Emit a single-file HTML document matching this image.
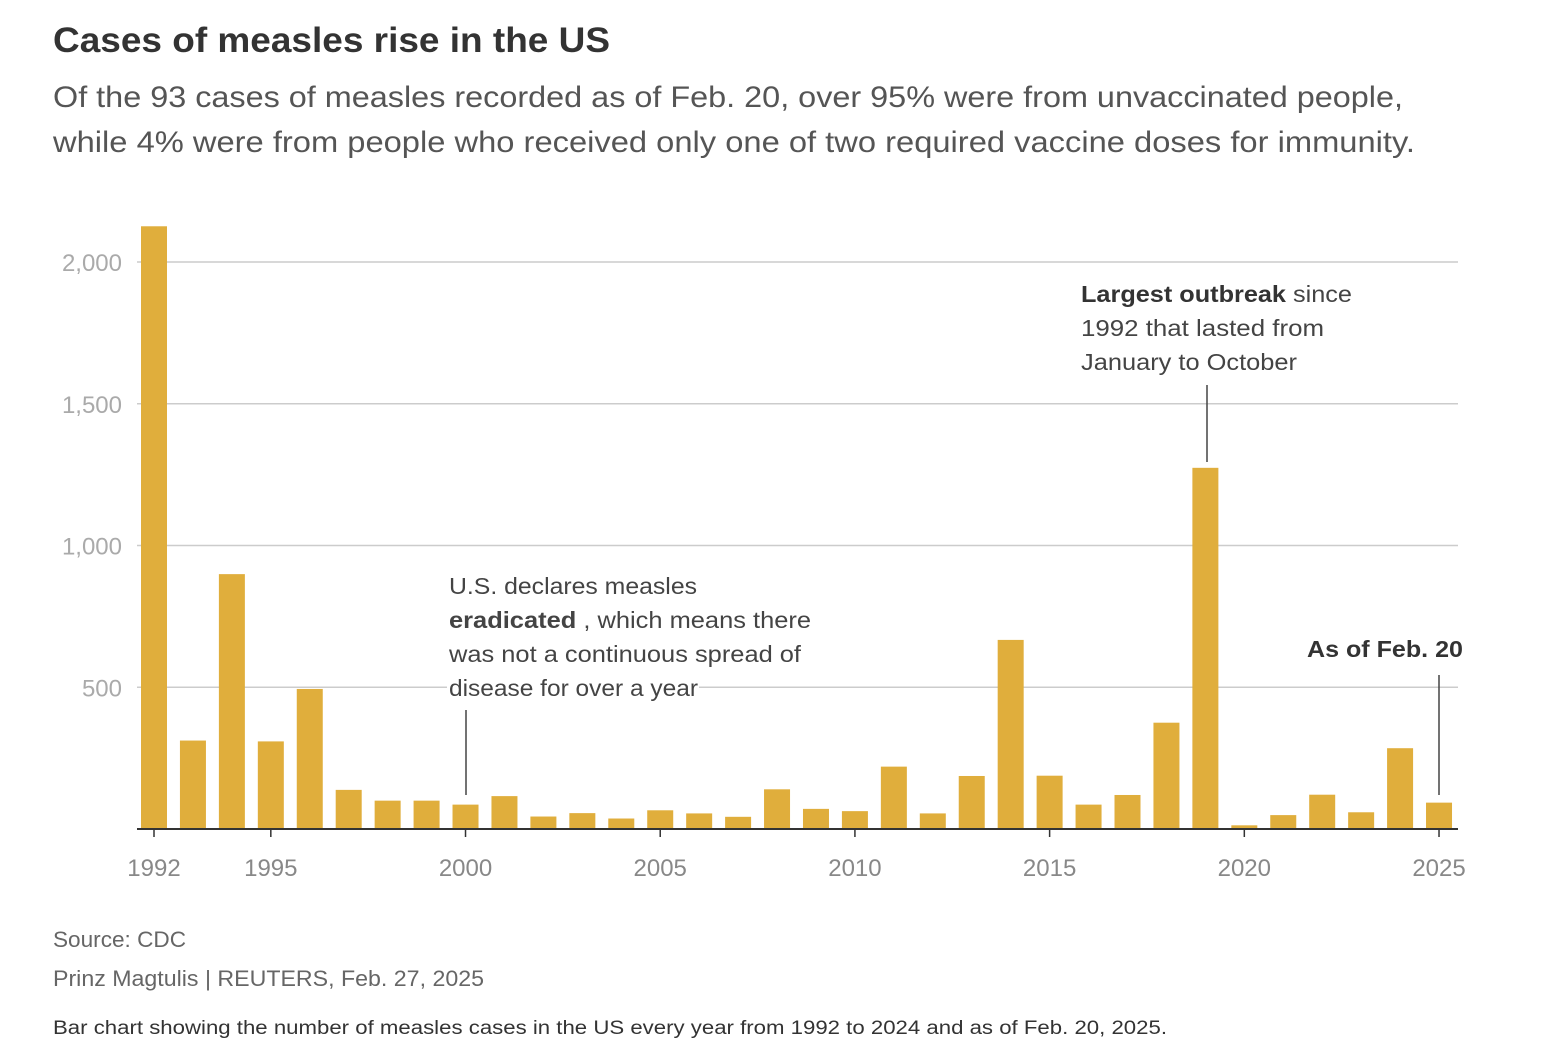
<!DOCTYPE html>
<html><head><meta charset="utf-8"><style>
body{margin:0;background:#fff;width:1552px;height:1054px;overflow:hidden;font-family:"Liberation Sans",sans-serif;}
svg text{font-family:"Liberation Sans",sans-serif;}
</style></head><body>
<svg width="1552" height="1054">
<text x="53" y="52" font-size="35" font-weight="bold" fill="#333" textLength="557" lengthAdjust="spacingAndGlyphs">Cases of measles rise in the US</text>
<text x="53" y="107" font-size="30" fill="#555" textLength="1350" lengthAdjust="spacingAndGlyphs">Of the 93 cases of measles recorded as of Feb. 20, over 95% were from unvaccinated people,</text>
<text x="53" y="152" font-size="30" fill="#555" textLength="1362" lengthAdjust="spacingAndGlyphs">while 4% were from people who received only one of two required vaccine doses for immunity.</text>
<g id="grid"></g><g id="bars"></g><g id="xaxis"></g>
<g>
<text x="449" y="594" font-size="23" fill="#444" textLength="248" lengthAdjust="spacingAndGlyphs">U.S. declares measles</text>
<text x="449" y="628" font-size="23" fill="#444" textLength="362" lengthAdjust="spacingAndGlyphs"><tspan font-weight="bold">eradicated</tspan> , which means there</text>
<text x="449" y="662" font-size="23" fill="#444" textLength="352" lengthAdjust="spacingAndGlyphs">was not a continuous spread of</text>
<rect x="447" y="676" width="252" height="26" fill="#fff"/>
<text x="449" y="696" font-size="23" fill="#444" textLength="249" lengthAdjust="spacingAndGlyphs">disease for over a year</text>
<line x1="466" y1="710" x2="466" y2="795" stroke="#444" stroke-width="1.5"/>
</g>
<g>
<text x="1081" y="302" font-size="23" fill="#444" textLength="271" lengthAdjust="spacingAndGlyphs"><tspan font-weight="bold" fill="#333">Largest outbreak</tspan> since</text>
<text x="1081" y="336" font-size="23" fill="#444" textLength="243" lengthAdjust="spacingAndGlyphs">1992 that lasted from</text>
<text x="1081" y="370" font-size="23" fill="#444" textLength="216" lengthAdjust="spacingAndGlyphs">January to October</text>
<line x1="1207" y1="385" x2="1207" y2="462" stroke="#444" stroke-width="1.5"/>
</g>
<g>
<text x="1463" y="657" font-size="23" font-weight="bold" fill="#333" text-anchor="end" textLength="156" lengthAdjust="spacingAndGlyphs">As of Feb. 20</text>
<line x1="1439" y1="675" x2="1439" y2="795" stroke="#444" stroke-width="1.5"/>
</g>
<text x="53" y="947" font-size="22" fill="#666" textLength="133" lengthAdjust="spacingAndGlyphs">Source: CDC</text>
<text x="53" y="986" font-size="22" fill="#666" textLength="431" lengthAdjust="spacingAndGlyphs">Prinz Magtulis | REUTERS, Feb. 27, 2025</text>
<text x="53" y="1034" font-size="19" fill="#333" textLength="1114" lengthAdjust="spacingAndGlyphs">Bar chart showing the number of measles cases in the US every year from 1992 to 2024 and as of Feb. 20, 2025.</text>
</svg>
<script>
const years=[1992,1993,1994,1995,1996,1997,1998,1999,2000,2001,2002,2003,2004,2005,2006,2007,2008,2009,2010,2011,2012,2013,2014,2015,2016,2017,2018,2019,2020,2021,2022,2023,2024,2025];
const cases=[2126,312,899,309,494,138,100,100,86,116,44,56,37,66,55,43,140,71,63,220,55,187,667,188,86,120,375,1274,13,49,121,59,285,93];
const yTicks=[500,1000,1500,2000];
const yTickLabels=["500","1,000","1,500","2,000"];
const xTicks=[1992,1995,2000,2005,2010,2015,2020,2025];
const ns="http://www.w3.org/2000/svg";
const y0=829,pxPer=0.2835,x0=154,step=38.94,bw=26;
const y=v=>y0-v*pxPer, x=yr=>x0+(yr-1992)*step;
const grid=document.getElementById('grid'),bars=document.getElementById('bars'),xa=document.getElementById('xaxis');
function mk(tag,attrs,parent){const e=document.createElementNS(ns,tag);for(const k in attrs)e.setAttribute(k,attrs[k]);parent.appendChild(e);return e;}
yTicks.forEach((v,i)=>{
 const l=mk('line',{x1:137,x2:1458,y1:y(v),y2:y(v),stroke:'#ccc','stroke-width':1.5},grid);
 
 
 const t=mk('text',{x:122,y:y(v)+9,'font-size':24,fill:'#aaa','text-anchor':'end'},grid);
 t.textContent=yTickLabels[i];
 
 
});
years.forEach((yr,i)=>{
 const r=mk('rect',{x:x(yr)-bw/2,y:y(cases[i]),width:bw,height:cases[i]*pxPer,fill:'#e0ae3c'},bars);
 
 
});
const base=mk('line',{x1:137,x2:1458,y1:y0,y2:y0,stroke:'#333','stroke-width':2},xa);


xTicks.forEach(yr=>{
 mk('line',{x1:x(yr),x2:x(yr),y1:y0,y2:y0+8,stroke:'#333','stroke-width':1.5},xa);
 const t=mk('text',{x:x(yr),y:876,'font-size':24,fill:'#888','text-anchor':'middle'},xa);
 t.textContent=yr;
 
 
});
</script>
</body></html>
